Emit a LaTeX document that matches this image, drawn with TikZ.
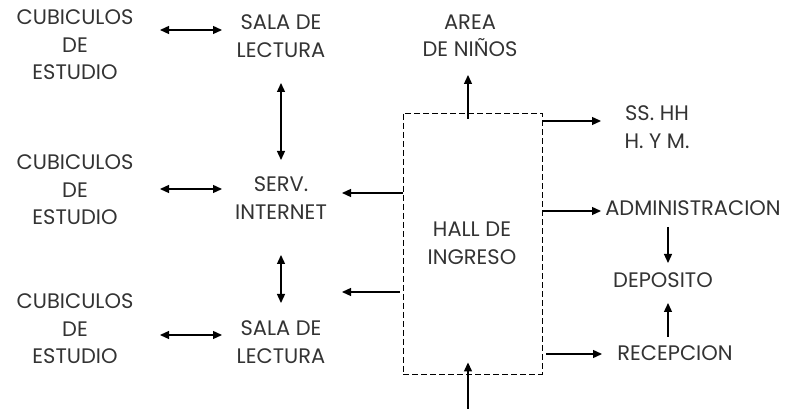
\documentclass[tikz,border=0pt]{standalone}
\usepackage{fontspec}
\setmainfont{Poppins}
\usetikzlibrary{arrows.meta,calc}
\begin{document}
\begin{tikzpicture}[x=1pt,y=1pt,
  lbl/.style={align=center,font=\fontsize{21}{27.5}\selectfont,text=black!80,inner sep=0pt},
  arr/.style={line width=1.3pt,-{Triangle[length=9pt,width=8pt]}},
  dbl/.style={line width=1.3pt,{Triangle[length=9pt,width=8pt]}-{Triangle[length=9pt,width=8pt]}},
  hallbox/.style={draw,dash pattern=on 6pt off 3pt,line width=0.9pt,minimum width=139pt,minimum height=261pt,inner sep=0pt}]
\useasboundingbox (0,0) rectangle (786,409);
\node[lbl] (cub1) at (75,364) {CUBICULOS\\DE\\ESTUDIO};
\node[lbl] (cub2) at (75,219) {CUBICULOS\\DE\\ESTUDIO};
\node[lbl] (cub3) at (75,80) {CUBICULOS\\DE\\ESTUDIO};
\node[lbl] (sala1) at (281,373) {SALA DE\\LECTURA};
\node[lbl] (serv) at (281,211) {SERV.\\INTERNET};
\node[lbl] (sala2) at (281,67) {SALA DE\\LECTURA};
\node[hallbox] (hall) at (472.5,165.5) {};
\node[lbl] (halltxt) at (472,166) {HALL DE\\INGRESO};
\node[lbl] (area) at (470,373) {AREA\\DE NIÑOS};
\node[lbl] (ss) at (657,282) {SS. HH\\H. Y M.};
\node[lbl] (admin) at (693,201) {ADMINISTRACION};
\node[lbl] (dep) at (663,129) {DEPOSITO};
\node[lbl] (rec) at (675,56) {RECEPCION};
\coordinate (entry) at (468,0);
% double arrows
\draw[dbl] ($(cub1.center)+(85,15)$) -- ($(sala1.center)+(-59,6)$);
\draw[dbl] ($(cub2.center)+(85,1)$) -- ($(serv.center)+(-59,9)$);
\draw[dbl] ($(cub3.center)+(85,-6)$) -- ($(sala2.center)+(-59,7)$);
\draw[dbl] ($(sala1.center)+(0,-47)$) -- ($(serv.center)+(0,38)$);
\draw[dbl] ($(serv.center)+(0,-57)$) -- ($(sala2.center)+(0,39)$);
% from hall
\draw[arr] ($(hall.west)+(0,50.5)$) -- ($(serv.center)+(61,5)$);
\draw[arr] ($(hall.west)+(-3,-48.5)$) -- ($(sala2.center)+(61,50)$);
\draw[arr] ($(hall.north)+(-4.5,-6)$) -- ($(area.center)+(-2,-39)$);
\draw[arr] ($(hall.east)+(0,122.5)$) -- ($(ss.center)+(-56,6)$);
\draw[arr] ($(hall.east)+(0,32.5)$) -- ($(admin.center)+(-92,-3)$);
\draw[arr] ($(hall.east)+(4,-110.5)$) -- ($(rec.center)+(-73,-1)$);
\draw[arr] ($(admin.center)+(-25,-19)$) -- ($(dep.center)+(5,17)$);
\draw[arr] ($(rec.center)+(-7,16)$) -- ($(dep.center)+(5,-23)$);
\draw[arr] (entry) -- ($(hall.south)+(-4.5,12)$);
\end{tikzpicture}
\end{document}
